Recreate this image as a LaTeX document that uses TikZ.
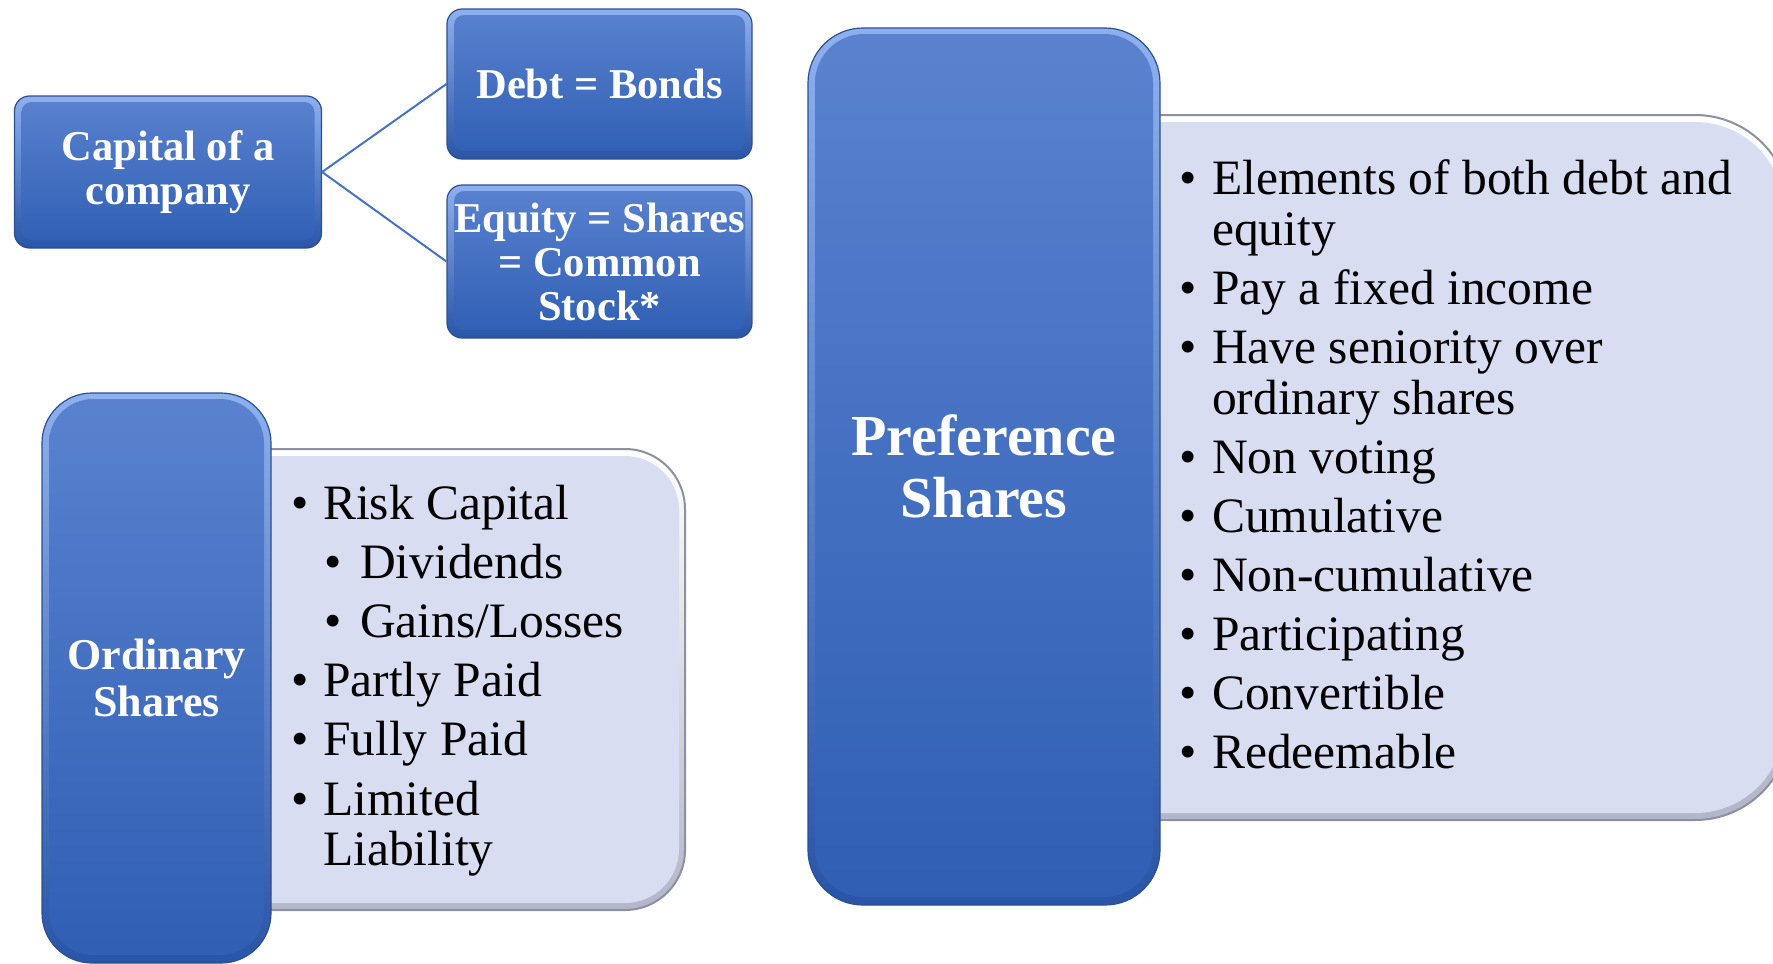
\documentclass[tikz,border=0pt]{standalone}
\usepackage{fontspec}
\setmainfont{Liberation Serif}
\usetikzlibrary{calc}
\definecolor{bInA}{HTML}{5A82CF}
\definecolor{bInB}{HTML}{2F5EB3}
\definecolor{bOutA}{HTML}{8EB0EE}
\definecolor{bOutB}{HTML}{2A55A6}
\definecolor{bEdge}{HTML}{2C4F93}
\definecolor{pFill}{HTML}{D9DDF1}
\definecolor{pEdge}{HTML}{8C90A2}
\definecolor{pShade}{HTML}{B2B6C8}
\definecolor{conn}{HTML}{4472C4}
\newcommand{\bul}[1]{\makebox[#1][l]{\textbullet}}
\begin{document}
\begin{tikzpicture}[x=1pt,y=-1pt,
  bluebox/.style 2 args={draw=bEdge, line width=1.2pt, rounded corners=#1,
    top color=bOutA, bottom color=bOutB, text=white, align=center, inner sep=0pt,
    path picture={\shade[top color=bInA, bottom color=bInB, rounded corners=#2]
      ([xshift=7pt,yshift=-6pt]path picture bounding box.north west) rectangle
      ([xshift=-7pt,yshift=8pt]path picture bounding box.south east);}},
  panel/.style 2 args={draw=pEdge, line width=2pt, rounded corners=#1,
    top color=white, bottom color=pShade, inner sep=0pt,
    path picture={\fill[pFill, rounded corners=#2]
      ([xshift=6pt,yshift=-7pt]path picture bounding box.north west) rectangle
      ([xshift=-6pt,yshift=7pt]path picture bounding box.south east);}},
  smallfont/.style={font=\fontsize{42.5}{44}\selectfont\bfseries},
  item/.style={anchor=base west, inner sep=0pt, align=left, text=black},
  prefitem/.style={item, font=\fontsize{49.5}{51}\selectfont},
  orditem/.style={item, font=\fontsize{49.5}{50}\selectfont},
  connector/.style={draw=conn, line width=2pt}
]
\useasboundingbox (0,0) rectangle (1773,964);
\clip (0,0) rectangle (1773,964);

% light panels (behind the blue boxes)
\node[panel={60pt}{54pt}, minimum width=535pt, minimum height=461pt] (ordp) at (417.5,679.5) {};
\node[panel={95pt}{89pt}, minimum width=790pt, minimum height=705pt] (prefp) at (1395,467.5) {};

% blue boxes
\node[bluebox={15pt}{10pt}, smallfont, minimum width=307pt, minimum height=152pt] (cap) at (168,172) {Capital of a\\company};
\node[bluebox={15pt}{10pt}, smallfont, minimum width=305pt, minimum height=150pt] (debt) at (599.5,84) {Debt = Bonds};
\node[bluebox={15pt}{10pt}, smallfont, minimum width=305pt, minimum height=153pt] (eq) at (599.5,261.5) {Equity = Shares\\= Common\\Stock*};
\node[bluebox={50pt}{44pt}, font=\fontsize{44}{47}\selectfont\bfseries, minimum width=229pt, minimum height=570pt] (ord) at (156.5,678) {Ordinary\\Shares};
\node[bluebox={55pt}{49pt}, font=\fontsize{58}{62}\selectfont\bfseries, minimum width=352pt, minimum height=877pt] (pref) at (984,466.5) {Preference\\Shares};

% connectors
\draw[connector] (cap.east) -- (debt.west);
\draw[connector] (cap.east) -- (eq.west);

% ordinary shares items (base anchor = baseline of last line)
\node[orditem] (o1) at (291,519) {\bul{32pt}Risk Capital};
\node[orditem] (o2) at (324,578) {\bul{36pt}Dividends};
\node[orditem] (o3) at (324,637) {\bul{36pt}Gains/Losses};
\node[orditem] (o4) at (291,696) {\bul{32pt}Partly Paid};
\node[orditem] (o5) at (291,755) {\bul{32pt}Fully Paid};
\node[orditem] (o6) at (291,865) {\bul{32pt}Limited\\\hspace*{32pt}Liability};

% preference shares items
\node[prefitem] (p1) at (1179,245) {\bul{33pt}Elements of both debt and\\\hspace*{33pt}equity};
\node[prefitem] (p2) at (1179,304) {\bul{33pt}Pay a fixed income};
\node[prefitem] (p3) at (1179,414) {\bul{33pt}Have seniority over\\\hspace*{33pt}ordinary shares};
\node[prefitem] (p4) at (1179,473) {\bul{33pt}Non voting};
\node[prefitem] (p5) at (1179,532) {\bul{33pt}Cumulative};
\node[prefitem] (p6) at (1179,591) {\bul{33pt}Non-cumulative};
\node[prefitem] (p7) at (1179,650) {\bul{33pt}Participating};
\node[prefitem] (p8) at (1179,709) {\bul{33pt}Convertible};
\node[prefitem] (p9) at (1179,768) {\bul{33pt}Redeemable};
\end{tikzpicture}
\end{document}
